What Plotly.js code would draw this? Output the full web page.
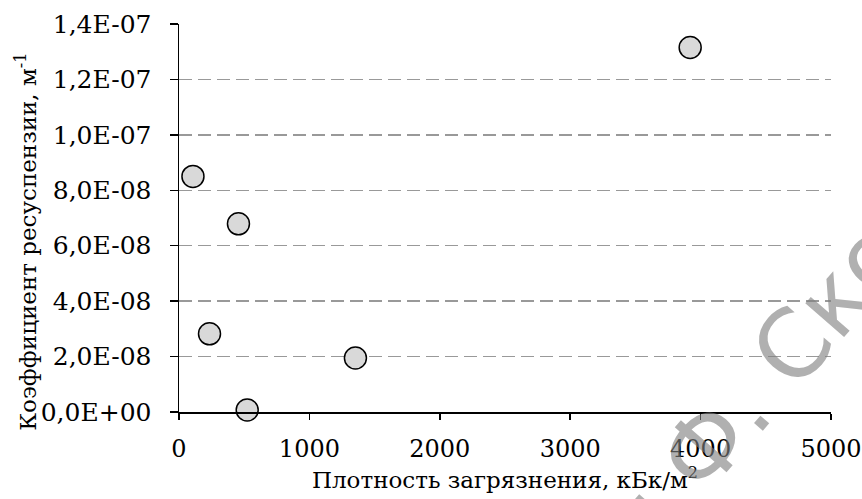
<!DOCTYPE html>
<html>
<head>
<meta charset="utf-8">
<script src="https://cdn.plot.ly/plotly-3.0.1.min.js"></script>
<style>html,body{margin:0;padding:0;background:#fff;}#chart{width:862px;height:499px;}</style>
</head>
<body>
<div id="chart"></div>
<script>
// Data
const density = [107, 456, 234, 523, 1353, 3920];           // кБк/м²
const resuspension = [8.50e-8, 6.79e-8, 2.82e-8, 0.07e-8, 1.95e-8, 13.15e-8]; // м⁻¹
const yTickVals = [0, 2e-8, 4e-8, 6e-8, 8e-8, 1e-7, 1.2e-7, 1.4e-7];
const yTickText = ["0,0E+00", "2,0E-08", "4,0E-08", "6,0E-08", "8,0E-08", "1,0E-07", "1,2E-07", "1,4E-07"];
const xTickVals = [0, 1000, 2000, 3000, 4000, 5000];
const xTitle = "Плотность загрязнения, кБк/м<sup>2</sup>";
const yTitle = "Коэффициент ресуспензии, м<sup>-1</sup>";
const watermark = "имени Ф. Скорины";

const serif = "DejaVu Serif";
const yTickFont = {family: serif, size: 25, color: "#000"};
const xTickFont = {family: serif, size: 24, color: "#000"};
const titleFont = {family: serif, size: 23, color: "#000"};

const trace = {
  type: "scatter",
  mode: "markers",
  x: density,
  y: resuspension,
  cliponaxis: false,
  marker: {size: 22, color: "#d9d9d9", line: {color: "#000", width: 1.5}},
  hoverinfo: "skip"
};

const layout = {
  width: 862, height: 499,
  margin: {l: 178.5, r: 31, t: 24, b: 87},
  paper_bgcolor: "#fff", plot_bgcolor: "#fff",
  font: yTickFont,
  showlegend: false,
  xaxis: {
    range: [0, 5000], tickvals: xTickVals, ticktext: xTickVals.map(String),
    showgrid: false, zeroline: false,
    showline: true, linecolor: "#000", linewidth: 1.5,
    ticks: "outside", ticklen: 6, tickwidth: 1.5, tickcolor: "#000",
    tickfont: xTickFont, automargin: false, ticklabelstandoff: 9,
    ticklabeloverflow: "allow",
    title: {text: xTitle, font: titleFont, standoff: 3}
  },
  yaxis: {
    range: [0, 1.4e-7], tickvals: yTickVals, ticktext: yTickText,
    showgrid: true, gridcolor: "#999", gridwidth: 1.5, griddash: "13px,6px",
    zeroline: false,
    showline: true, linecolor: "#000", linewidth: 1.5,
    ticks: "outside", ticklen: 8, tickwidth: 1.5, tickcolor: "#000",
    tickfont: yTickFont, automargin: false, ticklabelstandoff: 13,
    ticklabeloverflow: "allow",
    title: {text: ""}
  },
  annotations: [
    {
      text: yTitle, xref: "paper", yref: "paper", x: -0.234, y: 0.44,
      xanchor: "center", yanchor: "middle", showarrow: false, textangle: -90,
      font: titleFont
    },
    {
      text: watermark, xref: "paper", yref: "paper", x: 0.884, y: 0.058,
      xanchor: "center", yanchor: "middle", showarrow: false, textangle: -49,
      font: {family: "DejaVu Sans", size: 94, color: "rgba(128,128,128,0.62)"}
    }
  ]
};

Plotly.newPlot("chart", [trace], layout, {displayModeBar: false, staticPlot: true});
</script>
</body>
</html>
